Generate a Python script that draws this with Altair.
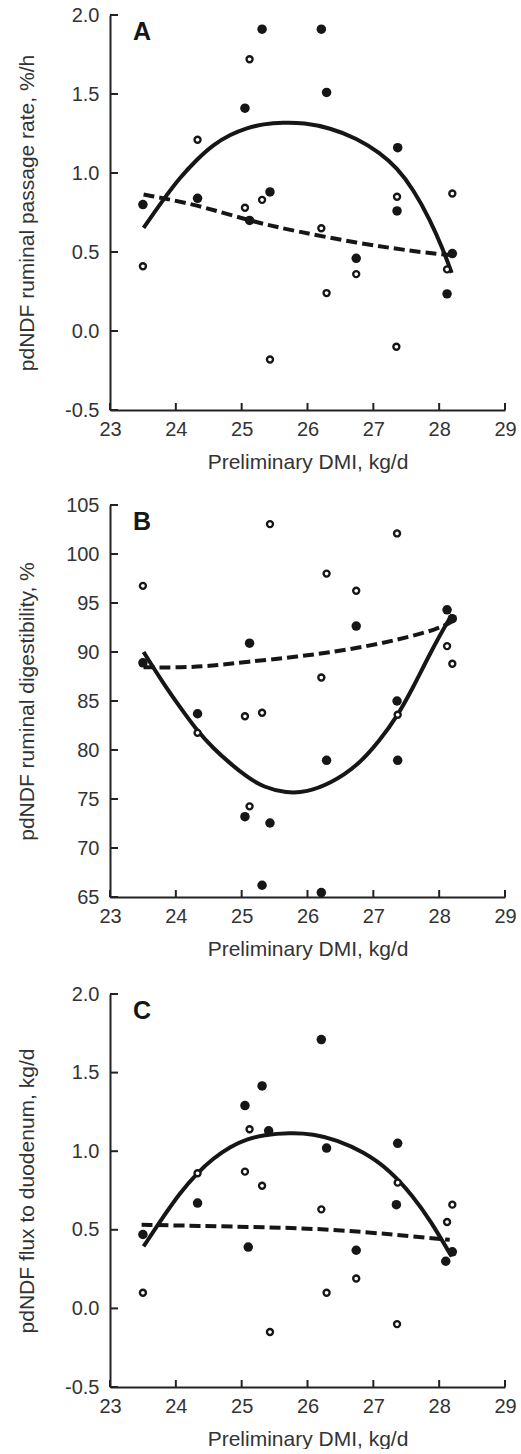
import altair as alt
import pandas as pd

# ---------------- data ----------------
# Panel A: pdNDF ruminal passage rate, %/h
a_filled_x = [23.50, 24.33, 25.05, 25.12, 25.31, 25.43, 26.21, 26.29, 26.74, 27.36, 27.37, 28.12, 28.20]
a_filled_y = [0.80, 0.84, 1.41, 0.70, 1.91, 0.88, 1.91, 1.51, 0.46, 0.76, 1.16, 0.235, 0.49]
a_open_x = [23.50, 24.33, 25.05, 25.12, 25.31, 25.43, 26.21, 26.29, 26.74, 27.35, 27.36, 28.12, 28.20]
a_open_y = [0.41, 1.21, 0.78, 1.72, 0.83, -0.18, 0.65, 0.24, 0.36, -0.10, 0.85, 0.39, 0.87]
a_solid_x = [23.51, 23.81, 24.06, 24.32, 24.57, 24.83, 25.08, 25.33, 25.63, 25.94, 26.34, 26.75,
             27.10, 27.36, 27.61, 27.86, 28.06, 28.19]
a_solid_y = [0.653, 0.832, 0.97, 1.086, 1.18, 1.244, 1.286, 1.31, 1.32, 1.318, 1.286, 1.22,
             1.128, 1.033, 0.895, 0.705, 0.515, 0.368]
a_dash_x = [23.51, 24.32, 25.13, 25.84, 26.75, 27.61, 28.11, 28.19]
a_dash_y = [0.864, 0.80, 0.695, 0.63, 0.557, 0.504, 0.483, 0.48]

# Panel B: pdNDF ruminal digestibility, %
b_filled_x = [23.50, 24.33, 25.05, 25.12, 25.31, 25.43, 26.21, 26.29, 26.74, 27.36, 27.37, 28.12, 28.20]
b_filled_y = [88.9, 83.7, 73.2, 90.9, 66.2, 72.55, 65.45, 78.95, 92.65, 85.0, 78.95, 94.3, 93.4]
b_open_x = [23.50, 24.33, 25.05, 25.12, 25.31, 25.43, 26.21, 26.29, 26.74, 27.36, 27.37, 28.12, 28.20]
b_open_y = [96.75, 81.75, 83.45, 74.25, 83.8, 103.05, 87.4, 98.0, 96.25, 102.1, 83.6, 90.6, 88.8]
b_solid_x = [23.51, 23.81, 24.06, 24.32, 24.57, 24.83, 25.08, 25.33, 25.68, 25.99, 26.34, 26.75,
             27.10, 27.36, 27.61, 27.86, 28.14, 28.20]
b_solid_y = [90.0, 86.79, 84.4, 82.0, 80.15, 78.6, 77.25, 76.2, 75.6, 75.7, 76.55, 78.3,
             81.0, 83.4, 86.45, 89.85, 93.25, 93.8]
b_dash_x = [23.51, 24.0, 24.5, 25.08, 25.84, 26.6, 27.36, 28.01, 28.19]
b_dash_y = [88.45, 88.4, 88.55, 89.0, 89.5, 90.2, 91.2, 92.4, 93.1]

# Panel C: pdNDF flux to duodenum, kg/d
c_filled_x = [23.50, 24.33, 25.05, 25.10, 25.31, 25.41, 26.21, 26.29, 26.74, 27.35, 27.37, 28.10, 28.20]
c_filled_y = [0.47, 0.67, 1.29, 0.39, 1.415, 1.13, 1.71, 1.02, 0.37, 0.66, 1.05, 0.30, 0.36]
c_open_x = [23.50, 24.33, 25.05, 25.12, 25.31, 25.43, 26.21, 26.29, 26.74, 27.36, 27.37, 28.12, 28.20]
c_open_y = [0.10, 0.86, 0.87, 1.14, 0.78, -0.15, 0.63, 0.10, 0.19, -0.10, 0.80, 0.55, 0.66]
c_solid_x = [23.51, 23.81, 24.06, 24.32, 24.57, 24.83, 25.08, 25.33, 25.73, 26.09, 26.44, 26.85,
             27.25, 27.61, 27.86, 28.19]
c_solid_y = [0.394, 0.584, 0.733, 0.86, 0.955, 1.03, 1.076, 1.104, 1.118, 1.11, 1.072, 0.997,
             0.88, 0.71, 0.563, 0.33]
c_dash_x = [23.48, 24.32, 25.33, 26.34, 27.36, 28.16]
c_dash_y = [0.532, 0.525, 0.517, 0.504, 0.468, 0.436]

x_ticks = [23, 24, 25, 26, 27, 28, 29]
ab_ticks = [-0.5, 0.0, 0.5, 1.0, 1.5, 2.0]
b_ticks = [65, 70, 75, 80, 85, 90, 95, 100, 105]

x_title = "Preliminary DMI, kg/d"
titles = ["pdNDF ruminal passage rate, %/h", "pdNDF ruminal digestibility, %", "pdNDF flux to duodenum, kg/d"]
labels = ["A", "B", "C"]

FONT = "Liberation Sans"
INK = "#161616"
TXT = "#333333"
W = 395


def panel(fx, fy, ox, oy, sx, sy, dx, dy, ydom, yticks, yexpr, label, ytitle, h):
    xscale = alt.Scale(domain=[23, 29], nice=False, zero=False)
    yscale = alt.Scale(domain=ydom, nice=False, zero=False)
    xaxis = alt.Axis(values=x_ticks, format="d", ticks=False, grid=False, labelFlush=False,
                     domainWidth=2, domainColor="#222", labelFont=FONT, labelFontSize=20,
                     labelColor=TXT, labelPadding=9, title=x_title, titleFont=FONT,
                     titleFontSize=21, titleFontWeight="normal", titleColor=TXT, titlePadding=12)
    yaxis = alt.Axis(values=yticks, labelExpr=yexpr, ticks=False, grid=False, labelFlush=False,
                     domainWidth=2, domainColor="#222", labelFont=FONT, labelFontSize=20,
                     labelColor=TXT, labelPadding=11, title=ytitle, titleFont=FONT,
                     titleFontSize=21, titleFontWeight="normal", titleColor=TXT,
                     titleX=-73, titleBaseline="bottom")

    def X(f):
        return alt.X(f, type="quantitative", scale=xscale, axis=xaxis)

    def Y(f):
        return alt.Y(f, type="quantitative", scale=yscale, axis=yaxis)

    solid = alt.Chart(pd.DataFrame({"x": sx, "y": sy})).mark_line(
        color=INK, strokeWidth=4, interpolate="basis").encode(x=X("x"), y=Y("y"))
    dash = alt.Chart(pd.DataFrame({"x": dx, "y": dy})).mark_line(
        color=INK, strokeWidth=4, strokeDash=[11, 5], interpolate="basis").encode(x=X("x"), y=Y("y"))
    filled = alt.Chart(pd.DataFrame({"x": fx, "y": fy})).mark_point(
        shape="circle", filled=True, color=INK, size=90, opacity=1).encode(x=X("x"), y=Y("y"))
    opened = alt.Chart(pd.DataFrame({"x": ox, "y": oy})).mark_point(
        shape="circle", filled=True, color="white", stroke=INK, strokeWidth=2.4,
        size=36, opacity=1).encode(x=X("x"), y=Y("y"))
    ytk = alt.Chart(pd.DataFrame({"v": yticks})).mark_rule(color="#222", strokeWidth=2).encode(
        y=Y("v"), x=alt.value(0), x2=alt.value(8))
    xtk = alt.Chart(pd.DataFrame({"v": x_ticks})).mark_rule(color="#222", strokeWidth=2).encode(
        x=X("v"), y=alt.value(h), y2=alt.value(h - 7))
    lab = alt.Chart(pd.DataFrame({"t": [label]})).mark_text(
        align="left", baseline="top", font=FONT, fontSize=25, fontWeight="bold", color=INK).encode(
        text="t:N", x=alt.value(23), y=alt.value(5))
    return alt.layer(ytk, xtk, solid, dash, filled, opened, lab).properties(width=W, height=h)


expr_1f = "datum.value < 0 ? '-' + format(-datum.value, '.1f') : format(datum.value, '.1f')"
expr_d = "format(datum.value, 'd')"

pa = panel(a_filled_x, a_filled_y, a_open_x, a_open_y, a_solid_x, a_solid_y, a_dash_x, a_dash_y,
           [-0.5, 2.0], ab_ticks, expr_1f, labels[0], titles[0], 395)
pb = panel(b_filled_x, b_filled_y, b_open_x, b_open_y, b_solid_x, b_solid_y, b_dash_x, b_dash_y,
           [65, 105], b_ticks, expr_d, labels[1], titles[1], 392)
pc = panel(c_filled_x, c_filled_y, c_open_x, c_open_y, c_solid_x, c_solid_y, c_dash_x, c_dash_y,
           [-0.5, 2.0], ab_ticks, expr_1f, labels[2], titles[2], 393)

chart = alt.vconcat(alt.vconcat(pa, pb, spacing=23), pc, spacing=25).properties(
    padding={"left": 16, "top": 5, "right": 0, "bottom": 0},
    background="white",
).configure_view(stroke=None)

chart.save("out.html", embed_options={"renderer": "svg", "actions": False})
